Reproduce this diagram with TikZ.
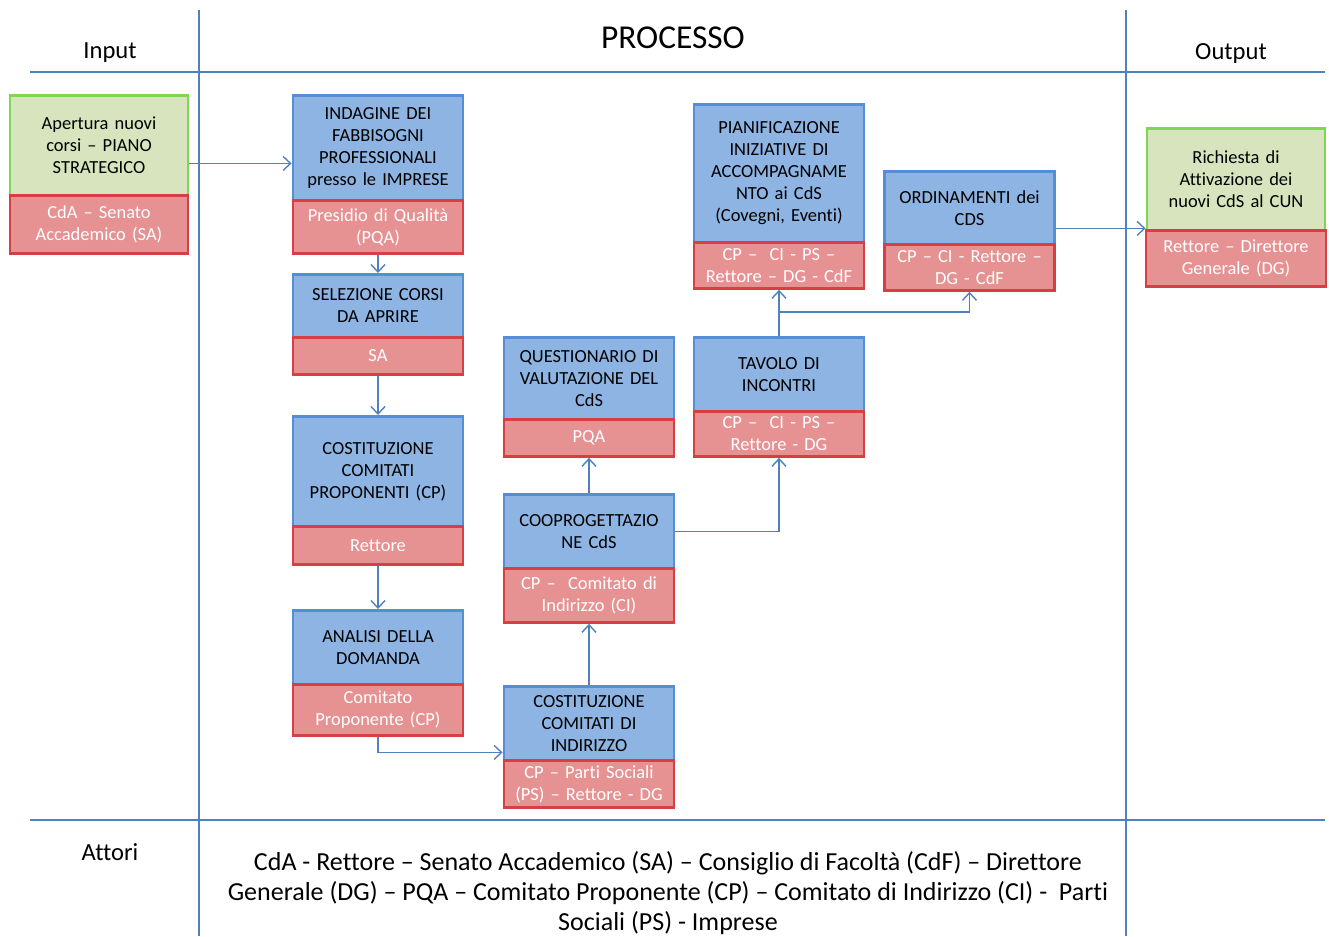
\documentclass[tikz,border=0pt]{standalone}
\usepackage{fontspec}
\setmainfont[Ligatures=NoCommon]{Carlito}
\usepackage{xcolor}
\usepackage{tikz}
\usetikzlibrary{positioning,arrows.meta}
\definecolor{stepblue}{RGB}{141,180,226}
\definecolor{stepedge}{RGB}{85,142,213}
\definecolor{actred}{RGB}{230,145,146}
\definecolor{actedge}{RGB}{214,64,68}
\definecolor{iogreen}{RGB}{215,228,189}
\definecolor{ioedge}{RGB}{126,214,82}
\definecolor{linkblue}{RGB}{79,129,189}

\begin{document}
\begin{tikzpicture}[node distance=-1.6pt,
	stepbox/.style={draw=stepedge, fill=stepblue, line width=1.6pt, text width=3.2cm, minimum width=3.4cm, inner sep=0.1cm, align=center, font=\fontsize{10.5}{12.5}\selectfont},
	iobox/.style={stepbox, draw=ioedge, fill=iogreen, text width=3.36cm, minimum width=3.56cm},
	actbox/.style={draw=actedge, fill=actred, line width=1.6pt, text width=3.2cm, minimum width=3.4cm, inner sep=0.1cm, align=center, text=white, font=\fontsize{10.5}{12.5}\selectfont},
	link/.style={draw=linkblue, line width=0.8pt},
	arr/.style={link, -{Straight Barb[length=1.5mm,width=2.8mm]}},
	grid/.style={draw=linkblue, line width=0.8pt}]
				\useasboundingbox (0,0) rectangle (26.58,-18.72);

				% frame of the table
				\draw [grid] (3.98,-0.2) -- (3.98,-18.72);
				\draw [grid] (22.52,-0.2) -- (22.52,-18.72);
				\draw [grid] (0.6,-1.44) -- (26.5,-1.44);
				\draw [grid] (0.6,-16.40) -- (26.5,-16.40);
				\node (hin) at (2.2,-1.06) {\fontsize{14}{17}\selectfont Input};
				\node (hproc) at (13.46,-0.76) {\fontsize{19}{23}\selectfont PROCESSO};
				\node (hout) at (24.62,-1.06) {\fontsize{14}{17}\selectfont Output};
				\node (hatt) at (2.2,-17.04) {\fontsize{14}{17}\selectfont Attori};
				\node (attori) [align=center, font=\fontsize{14.8}{17.2}\selectfont] at (13.36,-17.86) {CdA - Rettore -- Senato Accademico (SA) -- Consiglio di Facoltà (CdF) -- Direttore\\Generale (DG) -- PQA -- Comitato Proponente (CP) -- Comitato di Indirizzo (CI) -\ \ Parti\\Sociali (PS) - Imprese};

				% input
				\node (inp) [iobox, minimum height=2.0cm, anchor=north] at (1.98,-1.88) {Apertura nuovi\\corsi -- PIANO\\STRATEGICO};
				\node (inpR) [actbox, text width=3.36cm, minimum width=3.56cm, minimum height=1.16cm, below=of inp] {CdA -- Senato\\Accademico (SA)};

				% first column
				\node (indagine) [stepbox, minimum height=2.1cm, anchor=north] at (7.56,-1.88) {INDAGINE DEI\\FABBISOGNI\\PROFESSIONALI\\presso le IMPRESE};
				\node (indagineR) [actbox, minimum height=1.06cm, below=of indagine] {Presidio di Qualità\\(PQA)};
				\node (selezione) [stepbox, minimum height=1.26cm, anchor=north] at (7.56,-5.46) {SELEZIONE CORSI\\DA APRIRE};
				\node (selezioneR) [actbox, minimum height=0.74cm, below=of selezione] {SA};
				\node (costcp) [stepbox, minimum height=2.2cm, anchor=north] at (7.56,-8.30) {COSTITUZIONE\\COMITATI\\PROPONENTI (CP)};
				\node (costcpR) [actbox, minimum height=0.76cm, below=of costcp] {Rettore};
				\node (analisi) [stepbox, minimum height=1.48cm, anchor=north] at (7.56,-12.18) {ANALISI DELLA\\DOMANDA};
				\node (analisiR) [actbox, minimum height=1.02cm, below=of analisi] {Comitato\\Proponente (CP)};

				% second column
				\node (costci) [stepbox, minimum height=1.48cm, anchor=north] at (11.78,-13.70) {COSTITUZIONE\\COMITATI DI\\INDIRIZZO};
				\node (costciR) [actbox, minimum height=0.88cm, below=of costci] {CP -- Parti Sociali\\(PS) -- Rettore - DG};
				\node (coop) [stepbox, minimum height=1.48cm, anchor=north] at (11.78,-9.86) {COOPROGETTAZIO\\NE CdS};
				\node (coopR) [actbox, minimum height=1.08cm, below=of coop] {CP --\ \ Comitato di\\Indirizzo (CI)};
				\node (quest) [stepbox, minimum height=1.64cm, anchor=north] at (11.78,-6.72) {QUESTIONARIO DI\\VALUTAZIONE DEL\\CdS};
				\node (questR) [actbox, minimum height=0.74cm, below=of quest] {PQA};

				% third column
				\node (tavolo) [stepbox, minimum height=1.48cm, anchor=north] at (15.58,-6.72) {TAVOLO DI\\INCONTRI};
				\node (tavoloR) [actbox, minimum height=0.9cm, below=of tavolo] {CP --\ \ CI - PS --\\Rettore - DG};
				\node (pianif) [stepbox, minimum height=2.76cm, anchor=north] at (15.58,-2.06) {PIANIFICAZIONE\\INIZIATIVE DI\\ACCOMPAGNAME\\NTO ai CdS\\(Covegni, Eventi)};
				\node (pianifR) [actbox, minimum height=0.92cm, below=of pianif] {CP --\ \ CI - PS --\\Rettore -- DG - CdF};
				\node (ordin) [stepbox, minimum height=1.46cm, anchor=north] at (19.39,-3.40) {ORDINAMENTI dei\\CDS};
				\node (ordinR) [actbox, minimum height=0.92cm, below=of ordin] {CP -- CI - Rettore --\\DG - CdF};

				% output
				\node (outp) [iobox, minimum height=2.04cm, anchor=north] at (24.72,-2.54) {Richiesta di\\Attivazione dei\\nuovi CdS al CUN};
				\node (outpR) [actbox, text width=3.4cm, minimum width=3.6cm, minimum height=1.12cm, below=of outp] {Rettore -- Direttore\\Generale (DG)};

				\draw [arr] ([yshift=-0.36cm]inp.east) -- ([yshift=-0.36cm]inp.east -| indagine.west);
				\draw [arr] (indagineR.south) -- (selezione.north);
				\draw [arr] (selezioneR.south) -- (costcp.north);
				\draw [arr] (costcpR.south) -- (analisi.north);
				\draw [arr] (analisiR.south) |- ([yshift=-0.58cm]costci.west);
				\draw [arr] (costci.north) -- (coopR.south);
				\draw [arr] (coop.north) -- (questR.south);
				\draw [arr] (coop.east) -| (tavoloR.south);
				\draw [arr] (tavolo.north) -- (pianifR.south);
				\draw [arr] (tavolo.north) -- ++(0,0.48) -| (ordinR.south);
				\draw [arr] ([yshift=-0.41cm]ordin.east) -- ([yshift=-0.41cm]ordin.east -| outp.west);
			\end{tikzpicture}
\end{document}
